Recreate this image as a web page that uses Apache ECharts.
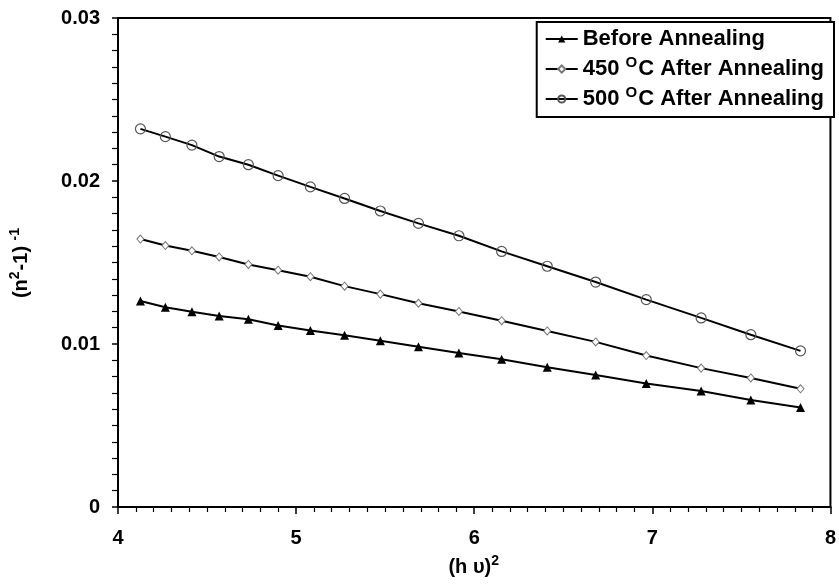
<!DOCTYPE html>
<html>
<head>
<meta charset="utf-8">
<script src="https://cdn.jsdelivr.net/npm/echarts@6/dist/echarts.min.js"></script>
<style>
  html, body { margin: 0; padding: 0; background: #fff; }
  #chart { width: 839px; height: 585px; }
</style>
</head>
<body>
<div id="chart"></div>
<script>
// (h v)^2 values, shared by all three curves
const hv2 = [4.126, 4.266, 4.415, 4.568, 4.732, 4.899, 5.080, 5.272, 5.473, 5.687,
  5.914, 6.154, 6.410, 6.682, 6.966, 7.274, 7.553, 7.832];

// (n^2-1)^-1
const beforeAnnealing = [0.01264, 0.01225, 0.01198, 0.01172, 0.01152, 0.01114, 0.01083, 0.01053,
  0.01020, 0.00983, 0.00945, 0.00906, 0.00857, 0.00810, 0.00758, 0.00712, 0.00657, 0.00610];
const after450 = [0.01644, 0.01604, 0.01572, 0.01534, 0.01488, 0.01453, 0.01413, 0.01355,
  0.01306, 0.01250, 0.01200, 0.01143, 0.01080, 0.01013, 0.00929, 0.00852, 0.00792, 0.00725];
const after500 = [0.02320, 0.02272, 0.02220, 0.02150, 0.02100, 0.02033, 0.01964, 0.01893,
  0.01816, 0.01740, 0.01664, 0.01568, 0.01477, 0.01380, 0.01272, 0.01160, 0.01057, 0.00958];

const xTicks = [4, 5, 6, 7, 8];
const yTicks = [0, 0.01, 0.02, 0.03];

const legendNames = {
  before: 'Before Annealing',
  a450: '450 {sup|O}C After Annealing',
  a500: '500 {sup|O}C After Annealing',
};

const font = 'Liberation Sans, Arial, sans-serif';
const supStyle = { fontSize: 14, fontWeight: 'bold', fontFamily: font, color: '#000', padding: [0, 1, 12, 0] };

function pairs(ys) {
  return hv2.map((x, i) => [x, ys[i]]);
}

const chart = echarts.init(document.getElementById('chart'));

chart.setOption({
  animation: false,
  backgroundColor: '#fff',
  grid: {
    left: 116,
    right: 7,
    top: 18,
    bottom: 78,
    show: true,
    borderColor: '#000',
    borderWidth: 2,
  },
  legend: {
    orient: 'vertical',
    right: 5,
    top: 22,
    padding: [6, 10, 7, 8],
    itemGap: 5,
    itemWidth: 32,
    itemHeight: 9,
    borderColor: '#000',
    borderWidth: 2,
    backgroundColor: '#fff',
    data: ['before', 'a450', 'a500'],
    formatter(name) {
      return legendNames[name];
    },
    textStyle: {
      fontFamily: font,
      fontWeight: 'bold',
      fontSize: 22,
      color: '#000',
      rich: { sup: { ...supStyle, fontSize: 15, padding: [0, 1, 13, 0] } },
    },
  },
  xAxis: {
    type: 'value',
    min: xTicks[0],
    max: xTicks[xTicks.length - 1],
    interval: 1,
    name: '(h υ){sup|2}',
    nameLocation: 'middle',
    nameGap: 47,
    nameTextStyle: {
      fontFamily: font, fontWeight: 'bold', fontSize: 20, color: '#000',
      rich: { sup: supStyle },
    },
    axisLine: { lineStyle: { color: '#000', width: 2 } },
    axisTick: { length: 7, lineStyle: { color: '#000', width: 1.5 } },
    minorTick: { show: true, splitNumber: 10, length: 5, lineStyle: { color: '#000', width: 1.2 } },
    splitLine: { show: false },
    axisLabel: {
      margin: 21,
      fontFamily: font, fontWeight: 'bold', fontSize: 20, color: '#000',
    },
  },
  yAxis: {
    type: 'value',
    min: yTicks[0],
    max: yTicks[yTicks.length - 1],
    interval: 0.01,
    name: '(n{sup|2}-1) {sup|-1}',
    nameLocation: 'middle',
    nameRotate: 90,
    nameGap: 84,
    nameTextStyle: {
      fontFamily: font, fontWeight: 'bold', fontSize: 20, color: '#000',
      rich: { sup: supStyle },
    },
    axisLine: { show: true, lineStyle: { color: '#000', width: 2 } },
    axisTick: { show: true, length: 6, lineStyle: { color: '#000', width: 1.5 } },
    minorTick: { show: true, splitNumber: 10, length: 6, lineStyle: { color: '#000', width: 1.2 } },
    splitLine: { show: false },
    axisLabel: {
      margin: 18,
      fontFamily: font, fontWeight: 'bold', fontSize: 20, color: '#000',
    },
  },
  series: [
    {
      name: 'before',
      type: 'line',
      data: pairs(beforeAnnealing),
      symbol: 'triangle',
      symbolSize: 9,
      lineStyle: { color: '#000', width: 2 },
      itemStyle: { color: '#000' },
    },
    {
      name: 'a450',
      type: 'line',
      data: pairs(after450),
      symbol: 'diamond',
      symbolSize: [7, 8],
      lineStyle: { color: '#000', width: 2 },
      itemStyle: { color: '#fff', borderColor: '#777', borderWidth: 1 },
    },
    {
      name: 'a500',
      type: 'line',
      data: pairs(after500),
      symbol: 'circle',
      symbolSize: 10,
      lineStyle: { color: '#000', width: 2 },
      itemStyle: { color: 'rgba(255,255,255,0)', borderColor: '#555', borderWidth: 1.2 },
    },
  ],
});
</script>
</body>
</html>
